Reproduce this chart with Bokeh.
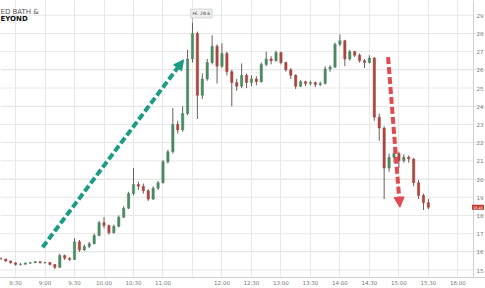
from bokeh.plotting import figure
from bokeh.models import Range1d, FixedTicker, Label, Arrow, NormalHead, ColumnDataSource, Span
from bokeh.core.properties import value
from bokeh.embed import file_html
from bokeh.resources import INLINE

# ---- data: 5-minute OHLC bars, BBBY intraday (start 8:15) ----
first_bar_minute = 495  # 8:15 in minutes since midnight
bar_step = 5
opens = [15.65, 15.60, 15.50, 15.40, 15.30, 15.32, 15.38, 15.40, 15.46, 15.40,
         15.42, 15.30, 15.15, 15.80, 15.65, 15.58, 16.55, 16.10, 16.30, 16.45,
         16.90, 17.60, 17.45, 17.05, 17.40, 17.90, 18.40, 19.20, 19.70, 19.60,
         19.35, 18.90, 19.50, 19.80, 20.95, 21.50, 23.00, 22.70, 23.60, 26.60,
         28.00, 24.60, 25.50, 26.40, 27.30, 26.20, 26.90, 25.90, 25.30, 25.10,
         25.70, 25.30, 25.50, 25.35, 26.30, 26.60, 26.50, 26.95, 26.40, 26.00,
         25.70, 25.10, 25.35, 25.25, 25.30, 25.20, 25.25, 26.05, 26.15, 27.40,
         27.60, 26.60, 27.00, 26.80, 26.50, 26.40, 26.65, 23.40, 22.80, 20.60,
         21.20, 21.40, 21.00, 21.20, 21.10, 19.80, 19.10, 18.70]
highs = [15.70, 15.62, 15.52, 15.42, 15.38, 15.42, 15.45, 15.50, 15.48, 15.45,
         15.44, 15.32, 15.90, 15.85, 15.70, 16.75, 16.65, 16.40, 16.55, 17.00,
         17.70, 17.90, 17.50, 17.50, 18.00, 18.50, 19.30, 20.60, 19.85, 19.75,
         19.45, 19.60, 19.90, 21.05, 21.60, 23.90, 23.20, 24.00, 27.10, 28.60,
         28.10, 25.80, 26.60, 27.90, 27.40, 27.45, 27.00, 26.00, 25.50, 26.35,
         25.80, 25.70, 25.65, 26.40, 27.00, 26.75, 27.05, 27.00, 26.45, 26.10,
         25.75, 25.45, 25.40, 25.40, 25.35, 25.35, 26.20, 26.25, 27.50, 27.95,
         27.65, 27.10, 27.05, 26.90, 26.60, 26.80, 26.70, 23.60, 22.90, 21.40,
         21.75, 21.50, 21.35, 21.30, 21.15, 19.95, 19.20, 18.90]
lows = [15.55, 15.45, 15.35, 15.25, 15.25, 15.30, 15.33, 15.38, 15.36, 15.35,
        15.25, 15.05, 15.12, 15.55, 15.50, 15.55, 16.00, 16.05, 16.20, 16.40,
        16.85, 17.30, 16.95, 17.00, 17.35, 17.85, 18.35, 19.10, 19.40, 19.20,
        18.80, 18.85, 19.40, 19.75, 20.85, 21.40, 22.50, 22.60, 23.50, 26.40,
        23.30, 24.40, 25.40, 26.30, 25.25, 26.10, 25.70, 24.00, 24.85, 25.00,
        25.00, 25.10, 25.15, 25.30, 26.20, 26.30, 26.45, 26.30, 25.90, 25.50,
        24.95, 25.05, 25.10, 25.15, 25.05, 25.10, 25.20, 25.90, 26.10, 27.30,
        26.20, 26.50, 26.70, 26.40, 26.10, 26.35, 23.20, 22.10, 18.90, 20.40,
        20.90, 20.60, 20.90, 20.90, 19.60, 18.90, 18.30, 18.35]
closes = [15.60, 15.50, 15.40, 15.30, 15.32, 15.38, 15.40, 15.46, 15.40, 15.42,
          15.30, 15.15, 15.80, 15.65, 15.58, 16.55, 16.10, 16.30, 16.45, 16.90,
          17.60, 17.45, 17.05, 17.40, 17.90, 18.40, 19.20, 19.70, 19.60, 19.35,
          18.90, 19.50, 19.80, 20.95, 21.50, 23.00, 22.70, 23.60, 26.60, 28.00,
          24.60, 25.50, 26.40, 27.30, 26.20, 26.90, 25.90, 25.30, 25.10, 25.70,
          25.30, 25.50, 25.35, 26.30, 26.60, 26.50, 26.95, 26.40, 26.00, 25.70,
          25.10, 25.35, 25.25, 25.30, 25.20, 25.25, 26.05, 26.15, 27.40, 27.60,
          26.60, 27.00, 26.80, 26.50, 26.40, 26.65, 23.40, 22.80, 20.60, 21.20,
          21.40, 21.00, 21.20, 21.10, 19.80, 19.10, 18.70, 18.45]

# axis ticks (minutes since midnight) and labels
tick_minutes = [510, 540, 570, 600, 630, 660, 690, 720, 750, 780, 810, 840, 870, 900, 930, 960]
tick_labels = ["8:30", "9:00", "9:30", "10:00", "10:30", "11:00", "", "12:00", "12:30",
               "13:00", "13:30", "14:00", "14:30", "15:00", "15:30", "16:00"]
price_ticks = [15, 16, 17, 18, 19, 20, 21, 22, 23, 24, 25, 26, 27, 28, 29]
price_labels = ["15", "16", "17", "18", "19", "20", "21", "22", "23", "24", "25", "26",
                "27", "28", "29"]

# annotations: (minute, price)
rally_arrow = [(537.5, 16.25), (681.0, 26.55)]
crash_arrow = [(889.0, 26.70), (901.0, 18.45)]
day_high = 28.6
day_high_minute = 690
last_price = 18.45
last_price_text = "18.45"

# time window shown, and where the price scale sits (minutes)
view_start, view_end = 494.7, 988.1
price_scale_at = 975.9

UP = "#4a8a62"
DOWN = "#aa4640"

times = [first_bar_minute + bar_step * i for i in range(len(closes))]
colors = [UP if c >= o else DOWN for o, c in zip(opens, closes)]
tops = [max(o, c) for o, c in zip(opens, closes)]
bots = [min(o, c) for o, c in zip(opens, closes)]
src = ColumnDataSource(dict(t=times, o=opens, h=highs, l=lows, c=closes,
                            top=tops, bot=bots, color=colors))

p = figure(width=485, height=288, output_backend="svg", toolbar_location=None,
           x_range=Range1d(view_start, view_end), y_range=Range1d(14.59, 29.81),
           y_axis_location=None, min_border_left=0, min_border_top=0,
           min_border_right=0, min_border_bottom=11, outline_line_color=None,
           background_fill_color="white", border_fill_color="white")

# horizontal grid lines up to the price scale
p.segment(x0=[view_start] * len(price_ticks), y0=price_ticks,
          x1=[price_scale_at] * len(price_ticks), y1=price_ticks,
          line_color="#e8e8e8", line_width=1)

p.segment(x0="t", y0="l", x1="t", y1="h", source=src, line_color="#5a4a48", line_width=0.9)
p.vbar(x="t", width=2.4, top="top", bottom="bot", source=src,
       fill_color="color", line_color="color", line_width=0.5)

# time axis
ax = p.xaxis[0]
ax.axis_line_color = "#d0d0d0"
ax.major_tick_out = 0
ax.major_tick_in = 0
ax.minor_tick_out = 0
ax.minor_tick_in = 0
ax.major_label_text_font_size = "5.5px"
ax.major_label_text_color = "#777777"
ax.major_label_text_font = "DejaVu Sans"
ax.major_label_standoff = 2
ax.ticker = FixedTicker(ticks=tick_minutes)
ax.major_label_overrides = {m: s for m, s in zip(tick_minutes, tick_labels)}
p.xgrid.grid_line_color = "#e8e8e8"

# price scale on the right
p.add_layout(Span(location=price_scale_at, dimension="height", line_color="#d0d0d0",
                  line_width=1))
p.text(x=[price_scale_at] * len(price_ticks), y=price_ticks, text=price_labels,
       x_offset=3, text_font_size="5.5px", text_color="#777777",
       text_font=value("DejaVu Sans"), text_baseline="middle", text_align="left")

# arrows
p.add_layout(Arrow(x_start=rally_arrow[0][0], y_start=rally_arrow[0][1],
                   x_end=rally_arrow[1][0], y_end=rally_arrow[1][1],
                   line_color="#1c9c84", line_width=4, line_dash="7 3",
                   end=NormalHead(size=10, fill_color="#1c9c84", line_color="#1c9c84")))
p.add_layout(Arrow(x_start=crash_arrow[0][0], y_start=crash_arrow[0][1],
                   x_end=crash_arrow[1][0], y_end=crash_arrow[1][1],
                   line_color="#e04a50", line_width=4, line_dash="7 3",
                   end=NormalHead(size=10, fill_color="#e04a50", line_color="#e04a50")))

# high label
p.segment(x0=[day_high_minute], y0=[day_high], x1=[day_high_minute], y1=[day_high + 0.25],
          line_color="#999999", line_width=0.7)
p.add_layout(Label(x=day_high_minute, y=day_high + 0.25, text="Hi: 28.6",
                   text_font_size="4.5px", text_color="#444444", text_font="DejaVu Sans",
                   x_offset=-2, background_fill_color="#eeeeee",
                   border_line_color="#bbbbbb", border_line_width=0.5,
                   padding=2))

# last price tag on the price scale (right-aligned to the canvas edge)
p.add_layout(Label(x=view_end, y=last_price, text=last_price_text,
                   text_font_size="3.5px", text_color="white", text_font="DejaVu Sans",
                   text_baseline="middle", text_align="right", x_offset=-1.5,
                   background_fill_color="#c0392b", padding=1))

# logo (cut off at the left edge); screen y counts up from the frame bottom
p.add_layout(Label(x=0, y=266, x_units="screen", y_units="screen", text="ED BATH &",
                   text_font_size="7px", text_color="#555555", text_font="DejaVu Sans",
                   text_baseline="middle"))
p.add_layout(Label(x=0, y=259, x_units="screen", y_units="screen", text="EYOND",
                   text_font_size="7px", text_color="#111111", text_font="DejaVu Sans",
                   text_font_style="bold", text_baseline="middle"))

open("out.html", "w").write(file_html(p, INLINE))
